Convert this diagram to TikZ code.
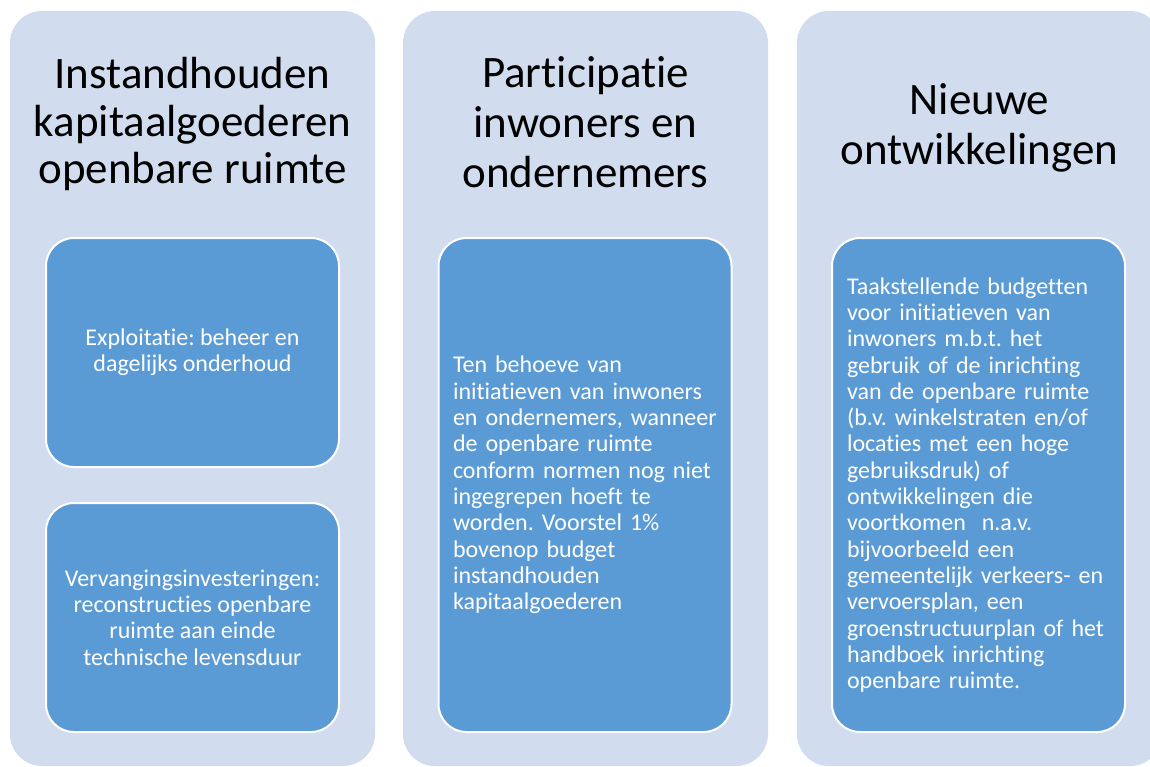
\documentclass[tikz,border=0pt]{standalone}
\usepackage{fontspec}
\setmainfont{Carlito}[Ligatures={NoCommon,NoRequired,NoContextual}]
\usetikzlibrary{positioning}
\frenchspacing

\definecolor{colbg}{RGB}{209,220,238}
\definecolor{cardblue}{RGB}{91,155,213}

\begin{document}
\begin{tikzpicture}[x=1pt,y=-1pt,inner sep=0pt,outer sep=0pt]
	\tikzstyle{column}=[rounded corners=32pt,fill=colbg,minimum width=365pt,
										minimum height=755pt]
	\tikzstyle{title}=[align=center,text=black]
	\tikzstyle{card}=[rounded corners=28pt,fill=cardblue,draw=white,line width=2pt,
										text=white,minimum width=293pt,font=\fontsize{24}{26.3}\selectfont]

	\useasboundingbox (0,0) rectangle (1150,766);
	\clip (0,0) rectangle (1150,766);

	\node[column,anchor=north west] (c1) at (10,11) {};
	\node[column] (c2) [right=28pt of c1] {};
	\node[column] (c3) [right=29pt of c2] {};

	\node[title,font=\fontsize{45}{47.5}\selectfont] (t1) at (192.5,124)
		{Instandhouden\\kapitaalgoederen\\openbare ruimte};
	\node[title,font=\fontsize{45}{50}\selectfont] (t2) at (585.5,122)
		{Participatie\\inwoners en\\ondernemers};
	\node[title,font=\fontsize{45}{50}\selectfont] (t3) at (979.5,128)
		{Nieuwe\\ontwikkelingen};

	\node[card,minimum height=229pt,align=center] (exploit) at (192.5,352.5)
		{Exploitatie: beheer en\\dagelijks onderhoud};
	\node[card,minimum height=229pt,align=center] (vervang) at (192.5,617.5)
		{Vervangingsinvesteringen:\\reconstructies openbare\\ruimte aan einde\\technische levensduur};
	\node[card,minimum height=494pt,text width=264pt,align=left] (partic) at (585,485)
		{Ten behoeve van\\initiatieven van inwoners\\en ondernemers, wanneer\\de openbare ruimte\\
		 conform normen nog niet\\ingegrepen hoeft te\\worden. Voorstel 1\%\\bovenop budget\\
		 instandhouden\\kapitaalgoederen};
	\node[card,minimum height=494pt,text width=263pt,align=left] (nieuw) at (978.5,485)
		{Taakstellende budgetten\\voor initiatieven van\\inwoners m.b.t. het\\gebruik of de inrichting\\
		 van de openbare ruimte\\(b.v. winkelstraten en/of\\locaties met een hoge\\gebruiksdruk) of\\
		 ontwikkelingen die\\voortkomen\ \ n.a.v.\\bijvoorbeeld een\\gemeentelijk verkeers- en\\
		 vervoersplan, een\\groenstructuurplan of het\\handboek inrichting\\openbare ruimte.};
\end{tikzpicture}
\end{document}
